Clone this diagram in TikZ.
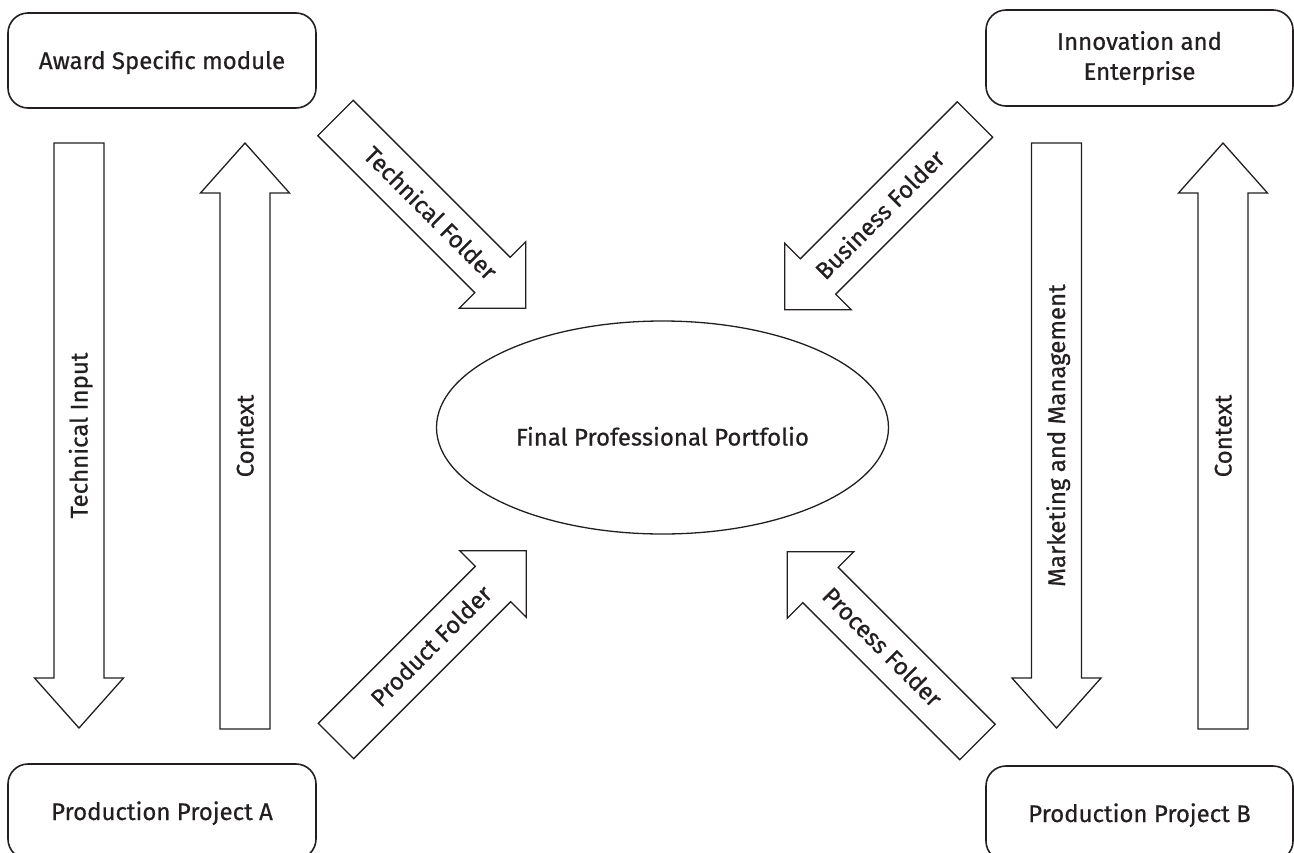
\documentclass[tikz,border=0pt]{standalone}
\usepackage{fontspec}
\setmainfont{Fira Sans}[FakeBold=0.6]
\usetikzlibrary{shapes.geometric}
\definecolor{ink}{HTML}{231F20}
% #1 name, #2 start point, #3 angle, #4 length, #5 head length, #6 head half width, #7 text rotation, #8 text, #9 label style
\newcommand\blockarr[9]{%
  \begin{scope}[shift={#2},rotate=#3]
    \draw[arr] (0,25) -- ({#4-#5},25) -- ({#4-#5},#6) -- (#4,0) -- ({#4-#5},-#6) -- ({#4-#5},-25) -- (0,-25) -- cycle;
    \node[#9,rotate=#7] (#1) at ({#4/2},0) {#8};
  \end{scope}}
\begin{document}
\begin{tikzpicture}[x=1pt,y=-1pt,
  box/.style={draw=ink, line width=1.6pt, rounded corners=20pt, minimum width=308pt,
    minimum height=95pt, inner sep=0pt, font=\fontsize{24}{30}\selectfont, text=ink, align=center},
  capc/.style={text height=17pt, text depth=0pt},
  arr/.style={draw=ink, line width=1.3pt, line join=miter},
  lbl/.style={font=\fontsize{24}{30}\selectfont, text=ink, inner sep=0pt, capc},
  dlbl/.style={font=\fontsize{24}{28}\selectfont, text=ink, inner sep=0pt, capc},
]
\useasboundingbox (0,0) rectangle (1294,852);
\clip (0,0) rectangle (1294,852);

% boxes
\node[box,capc] (award) at (162,60.5) {Award Specific module};
\node[box,minimum width=307pt,minimum height=96pt] (innov) at (1139.5,58) {Innovation and\\Enterprise};
\node[box,capc] (prodA) at (162,811.5) {Production Project A};
\node[box,capc,minimum width=307pt] (prodB) at (1139.5,813.5) {Production Project B};

% centre ellipse
\node[ellipse, draw=ink, line width=1.3pt, minimum width=452pt, minimum height=213pt, inner sep=0pt] (fpp) at (662.5,427.5) {};
\node[lbl] (fpptext) at (662.5,437) {Final Professional Portfolio};

% vertical block arrows
\blockarr{techin}{(79,143)}{-90}{585}{50}{44.5}{90}{Technical Input}{lbl}
\blockarr{ctxL}{(245,729)}{90}{586}{50}{44.5}{90}{Context}{lbl}
\blockarr{mktg}{(1056.5,143)}{-90}{585}{50}{44.5}{90}{Marketing and Management}{lbl}
\blockarr{ctxR}{(1223,729)}{90}{586}{50}{44.5}{90}{Context}{lbl}

% diagonal block arrows
\blockarr{techf}{(335.5,118)}{-45}{269}{47}{47}{-45}{Technical Folder}{dlbl}
\blockarr{busf}{(975,119.5)}{-135}{269}{47}{47}{45}{Business Folder}{dlbl}
\blockarr{prodf}{(336,741)}{45}{269}{47}{47}{45}{Product Folder}{dlbl}
\blockarr{procf}{(977.5,742)}{135}{269}{47}{47}{-45}{Process Folder}{dlbl}
\end{tikzpicture}
\end{document}
